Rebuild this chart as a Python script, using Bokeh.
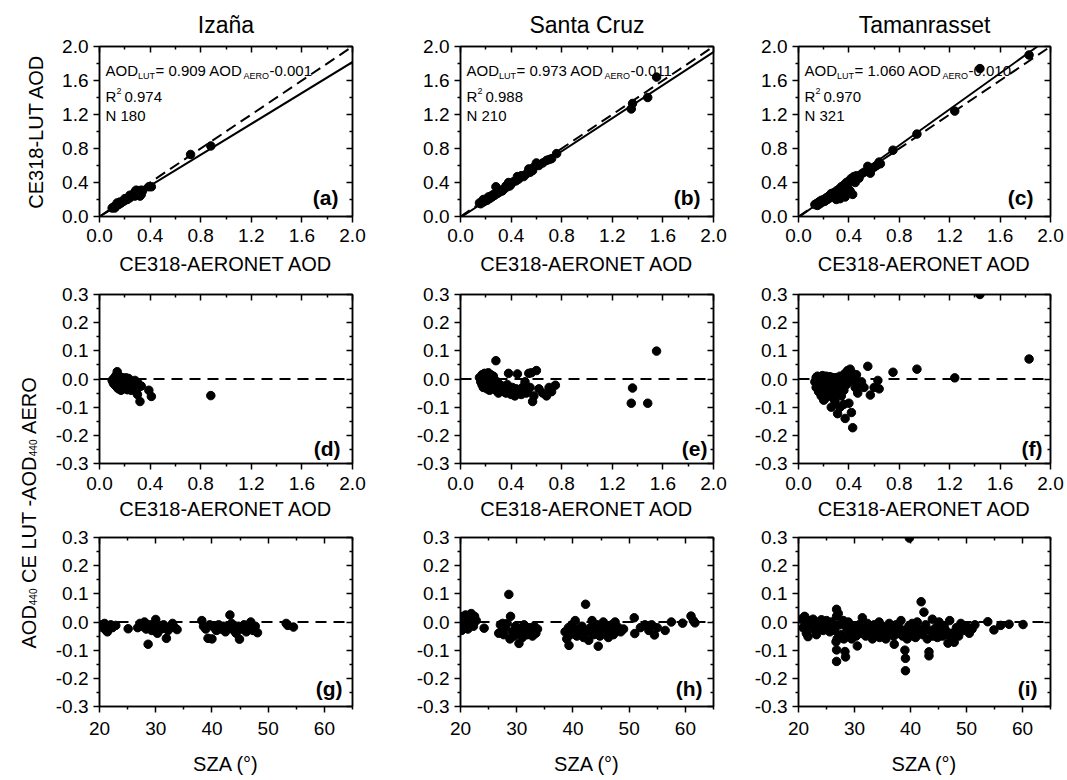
import math
from bokeh.plotting import figure
from bokeh.models import (Range1d, LinearAxis, FixedTicker, PrintfTickFormatter,
                          Label, Slope, Span)
from bokeh.layouts import row, column
from bokeh.embed import file_html
from bokeh.resources import INLINE

FONT = "Liberation Sans"

# ---------------- data ----------------
stations = ["Izaña", "Santa Cruz", "Tamanrasset"]
fit_slope = [0.909, 0.973, 1.060]
fit_intercept = [-0.001, -0.011, -0.010]
fit_r2 = ["0.974", "0.988", "0.970"]
fit_n = ["180", "210", "321"]
letters = ["(a)", "(b)", "(c)", "(d)", "(e)", "(f)", "(g)", "(h)", "(i)"]

aod_ticks = [0.0, 0.4, 0.8, 1.2, 1.6, 2.0]
aod_minor = [0.2, 0.6, 1.0, 1.4, 1.8]
diff_ticks = [-0.3, -0.2, -0.1, 0.0, 0.1, 0.2, 0.3]
diff_minor = [-0.25, -0.15, -0.05, 0.05, 0.15, 0.25]
sza_ticks = [20, 30, 40, 50, 60]
sza_minor = [25, 35, 45, 55, 65]

# (a) Izaña: LUT AOD vs AERONET AOD
iz_aero = [0.10, 0.11, 0.12, 0.13, 0.14, 0.14, 0.15, 0.16, 0.17, 0.18,
           0.19, 0.20, 0.21, 0.22, 0.23, 0.24, 0.25, 0.26, 0.27, 0.28,
           0.28, 0.29, 0.30, 0.30, 0.31, 0.32, 0.33, 0.34, 0.39, 0.41,
           0.72, 0.88, 0.12, 0.16, 0.20, 0.24, 0.29, 0.33]
iz_lut = [0.10, 0.11, 0.12, 0.12, 0.14, 0.16, 0.14, 0.15, 0.16, 0.17,
          0.18, 0.19, 0.21, 0.20, 0.22, 0.22, 0.24, 0.25, 0.26, 0.29,
          0.24, 0.31, 0.27, 0.30, 0.30, 0.24, 0.31, 0.30, 0.35, 0.35,
          0.73, 0.83, 0.10, 0.17, 0.21, 0.25, 0.26, 0.26]

# (b) Santa Cruz
sc_aero = [0.15, 0.16, 0.17, 0.18, 0.18, 0.19, 0.20, 0.21, 0.22, 0.23,
           0.24, 0.25, 0.26, 0.27, 0.28, 0.29, 0.30, 0.31, 0.32, 0.33,
           0.34, 0.35, 0.36, 0.37, 0.38, 0.39, 0.40, 0.42, 0.44, 0.45,
           0.46, 0.48, 0.50, 0.52, 0.54, 0.55, 0.57, 0.58, 0.60, 0.62,
           0.65, 0.68, 0.70, 0.72, 0.76, 1.35, 1.36, 1.48, 1.55]
sc_lut = [0.16, 0.15, 0.17, 0.17, 0.20, 0.18, 0.20, 0.19, 0.23, 0.21,
          0.24, 0.23, 0.26, 0.25, 0.35, 0.27, 0.28, 0.29, 0.31, 0.30,
          0.32, 0.33, 0.36, 0.35, 0.40, 0.36, 0.38, 0.41, 0.42, 0.47,
          0.44, 0.48, 0.47, 0.50, 0.56, 0.52, 0.54, 0.58, 0.63, 0.60,
          0.63, 0.66, 0.67, 0.68, 0.74, 1.265, 1.33, 1.40, 1.64]

# (c) Tamanrasset
ta_aero = [0.13, 0.14, 0.15, 0.16, 0.17, 0.18, 0.19, 0.20, 0.21, 0.22,
           0.23, 0.24, 0.25, 0.26, 0.27, 0.28, 0.29, 0.30, 0.31, 0.32,
           0.33, 0.34, 0.35, 0.36, 0.37, 0.38, 0.39, 0.40, 0.41, 0.42,
           0.43, 0.44, 0.45, 0.46, 0.48, 0.50, 0.52, 0.55, 0.57, 0.60,
           0.62, 0.64, 0.65, 0.75, 0.94, 1.24, 1.44, 1.83, 0.30, 0.37]
ta_lut = [0.14, 0.15, 0.13, 0.17, 0.15, 0.19, 0.17, 0.20, 0.18, 0.22,
          0.20, 0.24, 0.22, 0.27, 0.24, 0.28, 0.26, 0.30, 0.28, 0.32,
          0.21, 0.35, 0.30, 0.37, 0.23, 0.40, 0.35, 0.42, 0.30, 0.45,
          0.26, 0.47, 0.40, 0.48, 0.45, 0.50, 0.52, 0.59, 0.51, 0.58,
          0.60, 0.64, 0.62, 0.78, 0.97, 1.24, 1.74, 1.90, 0.20, 0.30]

# (d) Izaña: difference vs AERONET AOD
iz_d_aero = [0.10, 0.11, 0.11, 0.12, 0.12, 0.12, 0.13, 0.13, 0.13, 0.14,
             0.14, 0.14, 0.15, 0.15, 0.15, 0.16, 0.16, 0.17, 0.17, 0.18,
             0.18, 0.19, 0.19, 0.20, 0.20, 0.21, 0.21, 0.22, 0.22, 0.23,
             0.23, 0.24, 0.25, 0.26, 0.27, 0.28, 0.29, 0.30, 0.30, 0.31,
             0.32, 0.33, 0.39, 0.41, 0.88, 0.14, 0.16, 0.25, 0.28]
iz_d_diff = [-0.005, -0.015, 0.000, -0.020, -0.008, 0.005, -0.010, -0.025, 0.012, 0.026,
             -0.030, 0.002, -0.012, -0.035, 0.010, -0.022, 0.000, -0.040, -0.010, -0.028,
             0.005, -0.015, -0.035, -0.005, -0.030, 0.004, -0.020, -0.010, -0.038, -0.025,
             0.002, -0.015, -0.030, -0.010, -0.035, -0.020, -0.045, -0.012, -0.055, -0.030,
             -0.080, -0.025, -0.040, -0.062, -0.059, 0.015, 0.008, -0.040, -0.005]

# (e) Santa Cruz
sc_d_aero = [0.15, 0.16, 0.17, 0.17, 0.18, 0.18, 0.19, 0.19, 0.20, 0.20,
             0.21, 0.21, 0.22, 0.22, 0.23, 0.23, 0.24, 0.24, 0.25, 0.26,
             0.26, 0.27, 0.28, 0.28, 0.29, 0.30, 0.30, 0.31, 0.32, 0.33,
             0.34, 0.35, 0.36, 0.37, 0.38, 0.38, 0.39, 0.40, 0.41, 0.42,
             0.43, 0.44, 0.45, 0.46, 0.47, 0.48, 0.49, 0.50, 0.51, 0.52,
             0.53, 0.54, 0.55, 0.56, 0.57, 0.58, 0.60, 0.62, 0.65, 0.68,
             0.70, 0.72, 0.75, 1.35, 1.36, 1.48, 1.55]
sc_d_diff = [0.005, -0.010, 0.015, -0.020, 0.000, -0.030, 0.020, -0.012, 0.010, -0.025,
             -0.005, -0.035, 0.022, -0.015, 0.000, -0.040, 0.015, -0.025, -0.008, -0.030,
             0.010, -0.020, 0.065, -0.040, -0.010, -0.030, -0.050, -0.020, -0.040, -0.025,
             -0.045, -0.030, -0.050, -0.020, 0.020, -0.040, -0.035, -0.055, -0.030, -0.045,
             -0.060, -0.035, 0.018, -0.050, -0.040, -0.055, -0.030, -0.045, -0.010, -0.050,
             -0.040, 0.020, -0.030, 0.022, -0.080, -0.060, 0.030, -0.035, -0.050, -0.060,
             -0.030, -0.045, -0.022, -0.086, -0.032, -0.086, 0.099]

# (f) Tamanrasset
ta_d_aero = [0.13, 0.14, 0.14, 0.15, 0.15, 0.16, 0.16, 0.17, 0.17, 0.18,
             0.18, 0.19, 0.19, 0.20, 0.20, 0.21, 0.21, 0.22, 0.22, 0.23,
             0.23, 0.24, 0.24, 0.25, 0.25, 0.26, 0.26, 0.27, 0.27, 0.28,
             0.28, 0.29, 0.30, 0.30, 0.31, 0.32, 0.33, 0.33, 0.34, 0.35,
             0.36, 0.37, 0.38, 0.39, 0.40, 0.41, 0.42, 0.43, 0.44, 0.45,
             0.46, 0.47, 0.48, 0.50, 0.52, 0.55, 0.57, 0.60, 0.63, 0.64,
             0.26, 0.31, 0.33, 0.37, 0.40, 0.42, 0.43, 0.36, 0.29, 0.20,
             0.75, 0.94, 1.24, 1.44, 1.83]
ta_d_diff = [-0.010, 0.005, -0.030, -0.020, 0.010, -0.045, -0.005, -0.030, 0.008, -0.060,
             -0.015, 0.012, -0.040, -0.025, 0.000, -0.070, -0.010, -0.035, 0.010, -0.050,
             -0.020, -0.005, -0.040, 0.008, -0.060, -0.025, -0.010, -0.045, 0.005, -0.030,
             -0.070, -0.015, -0.040, 0.005, -0.055, -0.020, -0.030, 0.010, -0.060, -0.010,
             -0.040, 0.020, -0.020, 0.030, -0.005, 0.035, 0.010, 0.020, -0.010, -0.030,
             0.015, -0.050, -0.020, -0.010, -0.030, 0.045, -0.057, -0.030, -0.005, -0.035,
             -0.100, -0.123, -0.100, -0.140, -0.086, -0.119, -0.173, -0.090, -0.080, -0.075,
             0.024, 0.035, 0.004, 0.300, 0.071]

# (g) Izaña: difference vs SZA
iz_sza = [20.3, 20.6, 20.9, 21.2, 21.4, 21.7, 22.0, 22.3, 22.9, 25.1,
          26.8, 27.2, 27.6, 28.0, 28.3, 28.65, 29.0, 29.3, 29.6, 30.0,
          30.3, 30.7, 31.0, 31.4, 31.9, 32.2, 32.6, 33.0, 33.4, 33.8,
          38.2, 38.5, 38.9, 39.3, 39.6, 40.0, 40.4, 40.8, 41.2, 41.6,
          42.0, 42.4, 42.8, 43.2, 43.5, 43.9, 44.3, 44.7, 44.9, 45.3,
          45.7, 46.1, 46.5, 46.9, 47.3, 47.7, 48.1, 53.2, 53.5, 54.5]
iz_s_diff = [-0.010, -0.020, -0.005, -0.030, -0.035, -0.015, -0.010, -0.020, -0.012, -0.024,
             -0.020, -0.005, -0.015, 0.000, -0.025, -0.079, -0.010, -0.030, -0.020, 0.009,
             -0.040, -0.015, -0.025, -0.010, -0.058, -0.030, -0.015, -0.005, -0.020, -0.027,
             0.005, -0.015, -0.025, -0.058, -0.010, -0.060, -0.020, -0.030, -0.010, -0.025,
             -0.015, -0.035, -0.020, 0.025, -0.005, -0.030, -0.040, -0.015, -0.061, -0.025,
             -0.010, -0.035, -0.020, 0.000, -0.030, -0.015, -0.038, -0.005, -0.012, -0.018]

# (h) Santa Cruz
sc_sza = [20.1, 20.3, 20.5, 20.7, 20.9, 21.1, 21.3, 21.5, 21.7, 21.9,
          22.1, 22.3, 22.5, 22.8, 20.2, 20.6, 21.0, 21.4, 21.8, 22.2,
          24.2, 26.8, 27.1, 27.4, 27.7, 28.0, 28.3, 28.6, 28.9, 29.2,
          29.5, 29.8, 30.1, 30.4, 30.7, 31.0, 31.3, 31.6, 31.9, 32.2,
          32.5, 32.8, 33.1, 33.4, 33.7, 27.5, 28.8, 30.0, 31.5, 33.0,
          38.6, 38.9, 39.2, 39.5, 39.8, 40.1, 40.4, 40.7, 41.0, 41.3,
          41.6, 41.9, 42.25, 42.5, 42.8, 43.1, 43.4, 43.7, 44.0, 44.3,
          44.5, 44.8, 45.1, 45.4, 45.7, 46.0, 46.3, 46.6, 46.9, 47.2,
          47.5, 47.8, 48.1, 48.5, 49.0, 50.9, 51.0, 52.0, 52.8, 53.5,
          54.0, 54.5, 55.0, 56.4, 57.5, 59.5, 61.0, 61.4, 61.7, 39.3]
sc_s_diff = [0.010, -0.020, 0.020, -0.010, 0.025, 0.000, -0.025, 0.015, -0.005, 0.030,
             0.010, -0.015, 0.020, 0.005, -0.030, 0.000, -0.020, 0.012, -0.012, 0.020,
             -0.022, -0.040, -0.010, -0.030, -0.045, -0.020, -0.005, 0.098, 0.020, -0.035,
             -0.050, -0.015, -0.040, -0.076, -0.025, -0.055, -0.010, -0.035, -0.045, -0.020,
             -0.030, -0.050, -0.015, -0.040, -0.025, -0.005, -0.060, -0.030, -0.020, -0.045,
             -0.035, -0.060, -0.020, -0.045, -0.010, -0.030, 0.005, -0.050, -0.025, -0.040,
             -0.015, -0.055, 0.063, -0.035, -0.065, -0.020, 0.005, -0.045, -0.030, -0.010,
             -0.086, -0.050, -0.025, 0.000, -0.040, -0.020, -0.055, -0.035, -0.010, -0.045,
             0.000, -0.030, -0.020, -0.035, -0.025, 0.015, -0.041, -0.020, -0.010, -0.030,
             -0.010, -0.046, -0.020, -0.030, 0.000, -0.004, 0.021, 0.005, -0.003, -0.083]

# (i) Tamanrasset
ta_sza = [20.5, 20.8, 21.1, 21.4, 21.7, 22.0, 22.3, 22.6, 22.9, 23.2,
          23.5, 23.8, 24.1, 24.4, 24.7, 25.0, 25.3, 25.6, 25.9, 26.2,
          26.5, 26.8, 26.8, 26.8, 26.8, 26.9, 27.1, 27.4, 27.7, 28.0,
          28.3, 28.3, 28.4, 28.6, 28.9, 29.2, 29.5, 29.8, 30.1, 30.5,
          30.8, 31.1, 31.4, 31.7, 32.0, 32.3, 32.6, 32.9, 33.2, 33.5,
          33.8, 34.1, 34.4, 34.7, 35.0, 35.3, 35.6, 35.9, 36.2, 36.5,
          36.8, 37.1, 37.4, 37.7, 38.0, 38.3, 38.6, 38.9, 39.0, 39.1,
          39.1, 39.4, 39.7, 39.8, 40.0, 40.3, 40.6, 40.9, 41.2, 41.5,
          41.9, 42.2, 42.4, 42.7, 43.0, 43.3, 43.3, 43.6, 43.9, 44.2,
          44.5, 44.8, 45.1, 45.4, 45.7, 46.0, 46.3, 46.7, 47.0, 47.3,
          47.8, 48.2, 48.6, 49.0, 49.5, 50.0, 50.5, 51.0, 51.5, 53.8,
          54.9, 56.1, 57.6, 60.1, 21.5, 23.0, 25.5, 27.5, 29.0, 31.0,
          33.0, 35.0, 37.0, 41.0, 45.0, 48.0, 26.7, 27.2, 28.1, 30.3,
          32.5, 34.5, 36.5, 38.5, 40.5, 42.5, 44.0, 46.5, 47.5, 50.2]
ta_s_diff = [0.010, -0.020, 0.020, -0.040, -0.052, 0.005, -0.015, 0.010, -0.030, -0.045,
             0.000, -0.020, 0.008, -0.030, -0.010, 0.005, -0.025, -0.035, 0.000, -0.015,
             -0.030, 0.045, -0.140, -0.099, 0.020, -0.060, 0.030, -0.010, -0.045, 0.005,
             -0.105, -0.055, -0.124, -0.020, 0.000, -0.040, -0.060, -0.015, -0.030, -0.085,
             -0.010, -0.040, 0.015, -0.025, -0.050, -0.005, -0.035, -0.020, -0.060, -0.010,
             -0.040, -0.025, 0.000, -0.050, -0.015, -0.035, -0.060, -0.020, -0.005, -0.045,
             -0.025, -0.079, -0.010, -0.040, -0.020, 0.005, -0.050, -0.030, -0.100, -0.129,
             -0.173, -0.060, -0.015, 0.298, -0.040, -0.005, -0.030, -0.055, 0.000, -0.025,
             0.072, -0.045, 0.035, -0.010, -0.060, -0.106, -0.120, -0.030, 0.010, -0.040,
             -0.020, -0.055, 0.000, -0.035, -0.050, -0.015, -0.030, -0.075, 0.005, -0.040,
             -0.072, -0.020, -0.050, -0.005, -0.030, -0.015, -0.040, -0.025, -0.010, 0.001,
             -0.028, -0.012, -0.008, -0.009, -0.010, -0.005, -0.010, -0.055, -0.050, -0.030,
             -0.045, -0.030, -0.050, -0.045, -0.050, -0.035, -0.070, -0.055, -0.060, -0.050,
             -0.045, -0.055, -0.040, -0.045, -0.050, -0.030, -0.050, -0.045, -0.060, -0.025]

row1_x = [iz_aero, sc_aero, ta_aero]
row1_y = [iz_lut, sc_lut, ta_lut]
row2_x = [iz_d_aero, sc_d_aero, ta_d_aero]
row2_y = [iz_d_diff, sc_d_diff, ta_d_diff]
row3_x = [iz_sza, sc_sza, ta_sza]
row3_y = [iz_s_diff, sc_s_diff, ta_s_diff]

# ---------------- layout / style ----------------
LAB_W = 48
COLS = [dict(w=400, bl=99, br=48, fw=253),
        dict(w=340, bl=60, br=27, fw=253),
        dict(w=327, bl=58, br=17, fw=252)]
LETTER_RIGHT = [14, 13, 17, 12, 6, 8, 10, 11, 13]
TICK_PX = "19px"


def style_axis(ax, ticks, minor, fmt, mirror=False):
    ax.ticker = FixedTicker(ticks=ticks, minor_ticks=minor)
    ax.formatter = PrintfTickFormatter(format=fmt)
    ax.axis_line_color = "black"
    ax.axis_line_width = 1.5
    ax.major_tick_line_color = "black"
    ax.major_tick_line_width = 1.5
    ax.minor_tick_line_color = "black"
    ax.minor_tick_line_width = 1.5
    if mirror:
        ax.major_tick_in = 6
        ax.major_tick_out = 0
        ax.minor_tick_in = 3
        ax.minor_tick_out = 0
        ax.major_label_text_font_size = "1px"
        ax.major_label_text_color = None
        ax.major_label_standoff = 0
    else:
        ax.major_tick_in = 0
        ax.major_tick_out = 6
        ax.minor_tick_in = 0
        ax.minor_tick_out = 3
        ax.major_label_text_font = FONT
        ax.major_label_text_font_size = TICK_PX
        ax.major_label_text_color = "black"
        ax.axis_label_text_font = FONT
        ax.axis_label_text_font_size = "20px"
        ax.axis_label_text_font_style = "normal"
        ax.axis_label_text_color = "black"


def make_panel(w, h, bl, br, bt, bb, xr, yr, xt, xm, xf, yt, ym, yf,
               xlabel, x_std, xl_std, ylabel=None):
    p = figure(width=w, height=h, x_range=Range1d(*xr), y_range=Range1d(*yr),
               output_backend="svg", toolbar_location=None,
               min_border_left=bl, min_border_right=br,
               min_border_top=bt, min_border_bottom=bb)
    p.grid.visible = False
    p.outline_line_color = "black"
    p.outline_line_width = 1.5
    p.background_fill_color = "white"
    p.border_fill_color = "white"
    style_axis(p.xaxis[0], xt, xm, xf)
    style_axis(p.yaxis[0], yt, ym, yf)
    p.xaxis[0].major_label_standoff = x_std
    p.yaxis[0].major_label_standoff = 5
    p.xaxis[0].axis_label = xlabel
    p.xaxis[0].axis_label_standoff = xl_std
    if ylabel:
        p.yaxis[0].axis_label = ylabel
        p.yaxis[0].axis_label_standoff = 12
    top = LinearAxis()
    style_axis(top, xt, xm, xf, mirror=True)
    p.add_layout(top, "above")
    right = LinearAxis()
    style_axis(right, yt, ym, yf, mirror=True)
    p.add_layout(right, "right")
    return p


def put(p, xr, yr, fw, fh, dx, dy, text, size, bold=False, align="left",
        baseline="alphabetic"):
    x = xr[0] + dx * (xr[1] - xr[0]) / fw
    y = yr[1] - dy * (yr[1] - yr[0]) / fh
    p.add_layout(Label(x=x, y=y, text=text, text_font=FONT,
                       text_font_size=f"{size}px",
                       text_font_style="bold" if bold else "normal",
                       text_align=align, text_baseline=baseline,
                       text_color="black"))


AOD_R = (0.0, 2.0)
DIFF_R = (-0.3, 0.3)
SZA_R = (20.0, 65.0)

# row heights (pixels): row1 0..280, row2 280..525, row3 525..780
H1, BT1, BB1 = 280, 46, 64
H2, BT2, BB2 = 245, 14, 62
H3, BT3, BB3 = 255, 12, 74

row1, row2, row3 = [], [], []
for i in range(3):
    c = COLS[i]
    fw = c["fw"]
    # ---- row 1 ----
    fh = H1 - BT1 - BB1
    p = make_panel(c["w"], H1, c["bl"], c["br"], BT1, BB1, AOD_R, AOD_R,
                   aod_ticks, aod_minor, "%.1f", aod_ticks, aod_minor, "%.1f",
                   "CE318-AERONET AOD", 6, 8,
                   ylabel="CE318-LUT AOD" if i == 0 else None)
    p.title.text = stations[i]
    p.title.align = "center"
    p.title.text_font = FONT
    p.title.text_font_size = "23px"
    p.title.text_font_style = "normal"
    p.title.text_color = "black"
    p.title.standoff = 18
    p.add_layout(Slope(gradient=1.0, y_intercept=0.0, line_color="black",
                       line_width=2, line_dash="11 6"))
    p.add_layout(Slope(gradient=fit_slope[i], y_intercept=fit_intercept[i],
                       line_color="black", line_width=2))
    p.scatter(row1_x[i], row1_y[i], size=8.5, color="black")
    put(p, AOD_R, AOD_R, fw, fh, 6, 24, "AOD", 15)
    put(p, AOD_R, AOD_R, fw, fh, 38.5, 29, "LUT", 9)
    put(p, AOD_R, AOD_R, fw, fh, 56, 24, f"= {fit_slope[i]:.3f} AOD", 15)
    put(p, AOD_R, AOD_R, fw, fh, 144, 29, "AERO", 9)
    put(p, AOD_R, AOD_R, fw, fh, 170, 24, f"{fit_intercept[i]:.3f}", 15)
    put(p, AOD_R, AOD_R, fw, fh, 6, 50, "R", 15)
    put(p, AOD_R, AOD_R, fw, fh, 17, 44, "2", 9)
    put(p, AOD_R, AOD_R, fw, fh, 25, 50, fit_r2[i], 15)
    put(p, AOD_R, AOD_R, fw, fh, 6, 69, "N " + fit_n[i], 15)
    put(p, AOD_R, AOD_R, fw, fh, fw - LETTER_RIGHT[i], fh - 19, letters[i], 21,
        bold=True, align="right", baseline="middle")
    row1.append(p)

    w2 = c["w"] - LAB_W if i == 0 else c["w"]
    bl2 = c["bl"] - LAB_W if i == 0 else c["bl"]

    # ---- row 2 ----
    fh = H2 - BT2 - BB2
    p = make_panel(w2, H2, bl2, c["br"], BT2, BB2, AOD_R, DIFF_R,
                   aod_ticks, aod_minor, "%.1f", diff_ticks, diff_minor, "%.1f",
                   "CE318-AERONET AOD", 7, 5)
    p.add_layout(Span(location=0, dimension="width", line_color="black",
                      line_width=2, line_dash="11 7"))
    p.scatter(row2_x[i], row2_y[i], size=8.5, color="black")
    put(p, AOD_R, DIFF_R, fw, fh, fw - LETTER_RIGHT[3 + i], fh - 15, letters[3 + i], 21,
        bold=True, align="right", baseline="middle")
    row2.append(p)

    # ---- row 3 ----
    fh = H3 - BT3 - BB3
    p = make_panel(w2, H3, bl2, c["br"], BT3, BB3, SZA_R, DIFF_R,
                   sza_ticks, sza_minor, "%d", diff_ticks, diff_minor, "%.1f",
                   "SZA (°)", 9, 15)
    p.add_layout(Span(location=0, dimension="width", line_color="black",
                      line_width=2, line_dash="11 7"))
    p.scatter(row3_x[i], row3_y[i], size=8.5, color="black")
    put(p, SZA_R, DIFF_R, fw, fh, fw - LETTER_RIGHT[6 + i], fh - 18, letters[6 + i], 21,
        bold=True, align="right", baseline="middle")
    row3.append(p)

# shared y-axis title for rows 2 and 3 (rotated, with subscripts)
LH = H2 + H3
lab = figure(width=LAB_W, height=LH, x_range=Range1d(0, LAB_W), y_range=Range1d(0, LH),
             output_backend="svg", toolbar_location=None,
             x_axis_location=None, y_axis_location=None, min_border=0)
lab.grid.visible = False
lab.outline_line_color = None
lab.background_fill_color = "white"
lab.border_fill_color = "white"
y_pieces = [("AOD", 20, 132.0, 28.5), ("440", 10, 175.3, 32.5),
            ("CE LUT -AOD", 20, 197.6, 28.5), ("440", 10, 324.3, 32.5),
            ("AERO", 20, 346.6, 28.5)]
for txt, size, yy, xx in y_pieces:
    lab.add_layout(Label(x=xx, y=yy, text=txt, angle=math.pi / 2,
                         text_font=FONT, text_font_size=f"{size}px",
                         text_align="left", text_baseline="alphabetic",
                         text_color="black"))

layout = column(
    row(*row1),
    row(lab, column(row2[0], row3[0]), column(row2[1], row3[1]),
        column(row2[2], row3[2])),
)

open("out.html", "w").write(file_html(layout, INLINE))
